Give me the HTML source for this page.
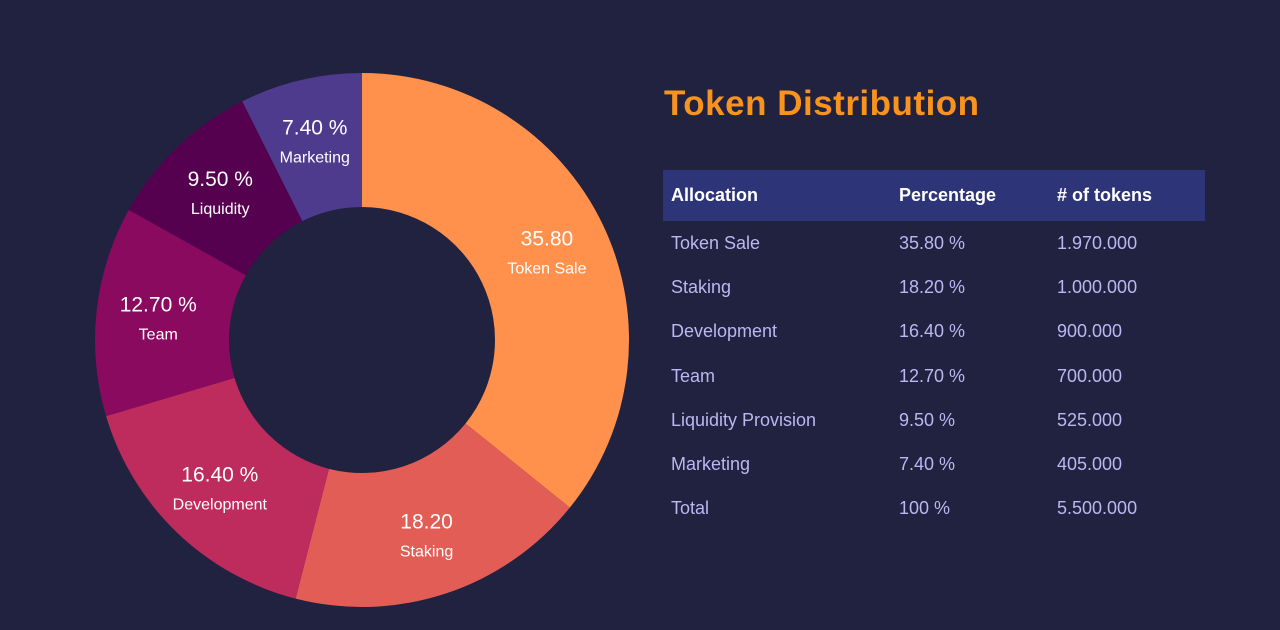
<!DOCTYPE html>
<html><head><meta charset="utf-8"><style>
body{margin:0;width:1280px;height:630px;background:#20223f;overflow:hidden;font-family:"Liberation Sans",sans-serif;position:relative}
#title{position:absolute;left:664px;top:84px;font-size:35px;font-weight:bold;color:#f7931e;letter-spacing:0.5px}
#tbl{position:absolute;left:663px;top:170px;width:542px;border-collapse:collapse}
#tbl th{background:#2e3478;color:#fff;font-size:18px;text-align:left;height:51px;padding:0 0 0 8px}
#tbl td{color:#b9b8f2;font-size:18px;height:44.3px;padding:0 0 0 8px}
</style></head><body>
<svg id="chart" width="640" height="630" style="position:absolute;left:0;top:0"></svg>
<div id="title">Token Distribution</div>
<table id="tbl">
<tr><th style="width:220px">Allocation</th><th style="width:150px">Percentage</th><th># of tokens</th></tr>
<tr><td>Token Sale</td><td>35.80 %</td><td>1.970.000</td></tr>
<tr><td>Staking</td><td>18.20 %</td><td>1.000.000</td></tr>
<tr><td>Development</td><td>16.40 %</td><td>900.000</td></tr>
<tr><td>Team</td><td>12.70 %</td><td>700.000</td></tr>
<tr><td>Liquidity Provision</td><td>9.50 %</td><td>525.000</td></tr>
<tr><td>Marketing</td><td>7.40 %</td><td>405.000</td></tr>
<tr><td>Total</td><td>100 %</td><td>5.500.000</td></tr>
</table>
<script>
const categories=["Token Sale","Staking","Development","Team","Liquidity","Marketing"];
const values=[35.8,18.2,16.4,12.7,9.5,7.4];
const valueLabels=["35.80","18.20","16.40 %","12.70 %","9.50 %","7.40 %"];
const colors=["#ff914d","#e35d57","#be2c5e","#890a5e","#560050","#4f3b8d"];
const cx=362,cy=340,R=267,r=133,LR=205;
const svg=document.getElementById('chart');
const NS="http://www.w3.org/2000/svg";
const total=values.reduce((a,b)=>a+b,0);
function pt(ang,rad){return [cx+rad*Math.sin(ang),cy-rad*Math.cos(ang)];}
let acc=0;
values.forEach((v,i)=>{
 const a0=acc/total*2*Math.PI;acc+=v;const a1=acc/total*2*Math.PI;
 const lg=(a1-a0)>Math.PI?1:0;
 const [x0,y0]=pt(a0,R),[x1,y1]=pt(a1,R),[x2,y2]=pt(a1,r),[x3,y3]=pt(a0,r);
 const p=document.createElementNS(NS,'path');
 p.setAttribute('d',`M${x0},${y0}A${R},${R} 0 ${lg} 1 ${x1},${y1}L${x2},${y2}A${r},${r} 0 ${lg} 0 ${x3},${y3}Z`);
 p.setAttribute('fill',colors[i]);
 
 
 svg.appendChild(p);
 const [lx,ly]=pt((a0+a1)/2,LR);
 const t1=document.createElementNS(NS,'text');
 t1.setAttribute('x',lx);t1.setAttribute('y',ly-6);t1.setAttribute('text-anchor','middle');
 t1.setAttribute('fill','#fff');t1.setAttribute('font-size','21');t1.setAttribute('font-family','Liberation Sans, sans-serif');
 t1.textContent=valueLabels[i];
 
 
 svg.appendChild(t1);
 const t2=document.createElementNS(NS,'text');
 t2.setAttribute('x',lx);t2.setAttribute('y',ly+22);t2.setAttribute('text-anchor','middle');
 t2.setAttribute('fill','#fff');t2.setAttribute('font-size','16');t2.setAttribute('font-family','Liberation Sans, sans-serif');
 t2.textContent=categories[i];
 
 
 svg.appendChild(t2);
});
</script>
</body></html>
